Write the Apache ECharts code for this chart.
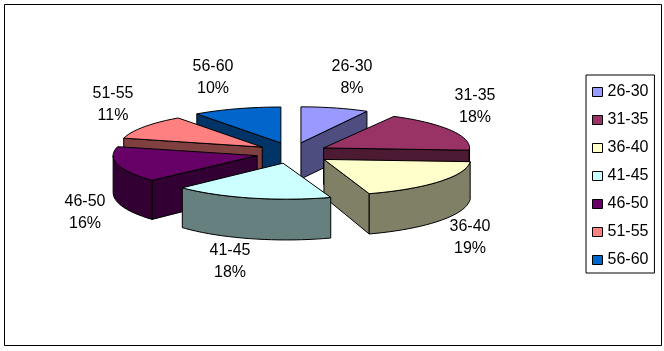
<!DOCTYPE html>
<html><head><meta charset="utf-8">
<style>html,body{margin:0;padding:0;background:#fff}#c{width:664px;height:351px}</style>
<script src="https://cdn.jsdelivr.net/npm/echarts@6/dist/echarts.min.js"></script>
</head><body><div id="c"></div>
<script>
const categories = ['26-30','31-35','36-40','41-45','46-50','51-55','56-60'];
const values = [8,18,19,18,16,11,10];
const topColors = ['#9999FF','#993366','#FFFFCC','#CCFFFF','#660066','#FF8080','#0066CC'];
const sideColors = ['#4D4D80','#4D1A33','#808066','#668080','#330033','#804040','#003366'];

const FONT = '"Liberation Sans", Arial, sans-serif';
const geo = {cx:292, cy:153, ry:36, ex:36, ey:10.5, depthBase:36, depthSlope:0.085, depthY:143};
// small perspective corrections per slice (pixels)
const sliceRx = [137,146,146.5,143,144,143,143];
const arcShift = [0,0,0,3.5,0,0,0];
const apexShift = [0,0,3.5,0,0,0,0];
const labelAnchors = [[352,78],[475,107],[470,238],[230,262],[85,213],[113,105],[213,78]];

const total = values.reduce((a,b)=>a+b,0);
const spans = []; let acc = 0;
values.forEach(v=>{ const s=acc/total*360; acc+=v; spans.push([s,acc/total*360]); });
const rad = d=>d*Math.PI/180;

function renderSlice(i){
  return function(params, api){
    const value = api.value(0);
    const a0 = spans[i][0], a1 = a0 + value/total*360, mid=(a0+a1)/2;
    const ax = geo.cx + geo.ex*Math.sin(rad(mid)) + apexShift[i];
    const ay = geo.cy - geo.ey*Math.cos(rad(mid));
    const D = y=>geo.depthBase + Math.max(0,(y-geo.depthY))*geo.depthSlope;
    const pt = a=>[ax+arcShift[i]+sliceRx[i]*Math.sin(rad(a)), ay-geo.ry*Math.cos(rad(a))];
    const low = p=>[p[0], p[1]+D(p[1])];
    const A=[ax,ay];
    const children = [];
    const stroke = {stroke:'#000', lineWidth:1, lineJoin:'miter'};
    const poly = (points, fill)=>children.push({type:'polygon', shape:{points}, style:Object.assign({fill},stroke)});
    // radial cut faces that look toward the viewer
    if (Math.cos(rad(a0-90))<-1e-6) poly([A,pt(a0),low(pt(a0)),low(A)], sideColors[i]);
    if (Math.cos(rad(a1+90))<-1e-6) poly([A,pt(a1),low(pt(a1)),low(A)], sideColors[i]);
    // outer wall, front half only
    const w0 = Math.max(a0,90), w1 = Math.min(a1,270);
    if (w1>w0){
      const up=[], dn=[];
      for(let a=w0;a<w1;a+=3){up.push(pt(a)); dn.unshift(low(pt(a)));}
      up.push(pt(w1)); dn.unshift(low(pt(w1)));
      poly(up.concat(dn), sideColors[i]);
    }
    // top face
    const top=[A];
    for(let a=a0;a<a1;a+=3) top.push(pt(a));
    top.push(pt(a1));
    poly(top, topColors[i]);
    return {type:'group', children};
  };
}
const mids = spans.map(s=>(s[0]+s[1])/2);
const series = categories.map((name,i)=>({
  type:'custom', name, coordinateSystem:'none', silent:true, animation:false,
  z: 10 - Math.cos(rad(mids[i])),
  itemStyle:{color:topColors[i], borderColor:'#000', borderWidth:1},
  data:[values[i]],
  renderItem: renderSlice(i)
}));
const labels = categories.map((c,i)=>({
  type:'text', x:labelAnchors[i][0], y:labelAnchors[i][1], z:50,
  style:{text:c+'\n'+Math.round(values[i]/total*100)+'%', font:'16px '+FONT, fill:'#000',
         textAlign:'center', textVerticalAlign:'middle', lineHeight:22}
}));
const chart = echarts.init(document.getElementById('c'),null,{renderer:'canvas'});
chart.setOption({
  animation:false,
  backgroundColor:'#fff',
  legend:{
    orient:'vertical', left:586, top:75, padding:[9,6,5,6],
    itemWidth:10, itemHeight:9, itemGap:12, align:'left',
    borderColor:'#000', borderWidth:1, selectedMode:false,
    textStyle:{fontFamily:FONT, fontSize:16, color:'#000', padding:[0,0,0,0]},
    data:categories.map((name,i)=>({name, icon:'rect', itemStyle:{color:topColors[i], borderColor:'#000', borderWidth:1}}))
  },
  graphic:[{type:'rect', z:0, shape:{x:4.5,y:4.5,width:657,height:341}, style:{fill:'none',stroke:'#000',lineWidth:1}}].concat(labels),
  series
});
</script></body></html>
